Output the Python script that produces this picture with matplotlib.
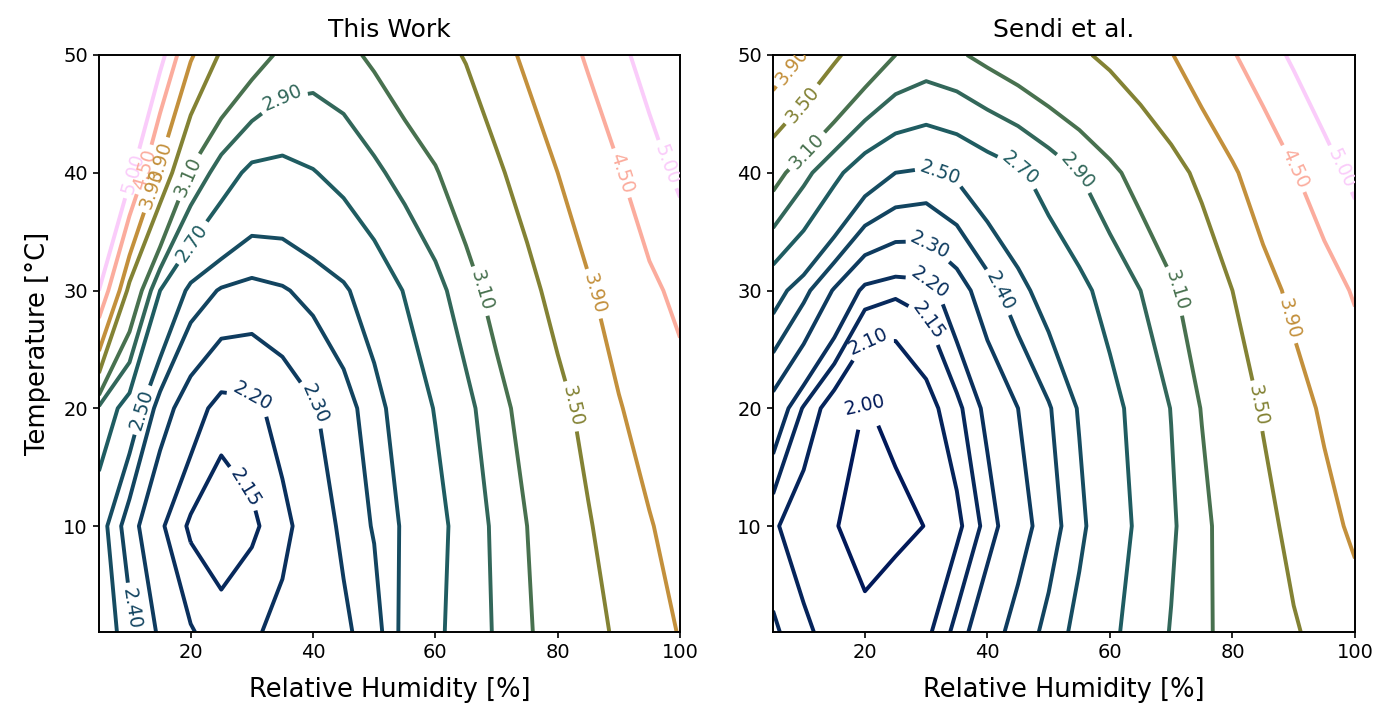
import matplotlib
matplotlib.use("Agg")
import matplotlib.pyplot as plt
import numpy as np
from matplotlib.colors import LinearSegmentedColormap, Normalize

# grid: relative humidity [%] x temperature [C]
rh = [5, 10, 15, 20, 25, 30, 35, 40, 45, 50, 55, 60, 65, 70, 75, 80, 85, 90, 95, 100]
temp = [1, 10, 20, 30, 40, 50]

# model output, one row per temperature
this_work = [
    [2.60, 2.43, 2.28, 2.205, 2.17, 2.19, 2.22, 2.25, 2.28, 2.35, 2.54, 2.66, 2.79, 2.92, 3.07, 3.23, 3.39, 3.55, 3.74, 3.92],
    [2.56, 2.34, 2.21, 2.14, 2.12, 2.14, 2.18, 2.24, 2.32, 2.41, 2.52, 2.64, 2.78, 2.94, 3.10, 3.28, 3.47, 3.68, 3.87, 4.08],
    [2.86, 2.60, 2.35, 2.24, 2.17, 2.18, 2.23, 2.29, 2.36, 2.45, 2.58, 2.71, 2.85, 3.01, 3.20, 3.39, 3.61, 3.87, 4.10, 4.32],
    [5.00, 3.37, 2.70, 2.46, 2.39, 2.37, 2.39, 2.43, 2.48, 2.58, 2.71, 2.84, 3.00, 3.20, 3.39, 3.63, 3.85, 4.12, 4.40, 4.62],
    [6.50, 5.15, 3.78, 3.07, 2.80, 2.65, 2.64, 2.69, 2.76, 2.86, 2.97, 3.08, 3.26, 3.44, 3.66, 3.90, 4.19, 4.47, 4.80, 5.10],
    [7.50, 6.20, 5.20, 3.95, 3.45, 3.22, 3.05, 3.00, 3.04, 3.14, 3.26, 3.39, 3.52, 3.74, 3.98, 4.27, 4.56, 4.88, 5.20, 5.50],
]

sendi = [
    [2.16, 2.115, 2.07, 2.025, 2.05, 2.085, 2.168, 2.253, 2.337, 2.43, 2.54, 2.66, 2.78, 2.91, 3.05, 3.19, 3.33, 3.47, 3.60, 3.74],
    [2.11, 2.06, 2.006, 1.96, 1.98, 2.002, 2.085, 2.17, 2.255, 2.35, 2.47, 2.60, 2.74, 2.87, 3.04, 3.22, 3.40, 3.59, 3.78, 3.97],
    [2.257, 2.144, 2.065, 1.995, 2.02, 2.077, 2.135, 2.218, 2.30, 2.39, 2.51, 2.64, 2.77, 2.905, 3.11, 3.32, 3.53, 3.74, 3.96, 4.18],
    [2.56, 2.43, 2.29, 2.18, 2.16, 2.17, 2.25, 2.36, 2.46, 2.56, 2.65, 2.77, 2.90, 3.06, 3.27, 3.50, 3.74, 4.00, 4.28, 4.55],
    [3.20, 2.96, 2.75, 2.58, 2.50, 2.48, 2.52, 2.60, 2.67, 2.78, 2.90, 3.04, 3.20, 3.38, 3.58, 3.84, 4.15, 4.47, 4.80, 5.13],
    [4.20, 3.87, 3.56, 3.30, 3.10, 3.02, 3.07, 3.16, 3.25, 3.35, 3.45, 3.57, 3.72, 3.88, 4.16, 4.46, 4.77, 5.08, 5.40, 5.70],
]

levels = [2.00, 2.10, 2.15, 2.20, 2.30, 2.40, 2.50, 2.70, 2.90, 3.10, 3.50, 3.90, 4.50, 5.00]

# label spots (RH, T) for clabel
work_labels = [(10.1, 40.0), (11.5, 40.4), (14.5, 41.0), (14.2, 38.6), (19.4, 39.7),
               (34.9, 46.6), (20.7, 33.9), (11.7, 19.9), (10.1, 3.0), (40.0, 20.3),
               (30.0, 21.0), (30.0, 13.7), (67.7, 30.0), (82.5, 20.2), (85.7, 29.7),
               (90.6, 40.0), (97.8, 40.7)]
sendi_labels = [(9.5, 48.5), (10.2, 45.6), (10.2, 42.0), (32.4, 40.3), (45.3, 40.3),
                (54.8, 40.3), (30.3, 33.7), (42.8, 30.1), (30.3, 30.5), (29.8, 27.3),
                (20.5, 26.7), (20.0, 20.3), (71.4, 30.1), (90.5, 27.8), (84.0, 20.2),
                (92.6, 41.0), (98.3, 40.5)]

batlow = LinearSegmentedColormap.from_list(
    "batlow", ["#011959", "#103F60", "#1C5A62", "#3C6D56", "#687B3E",
               "#9D892B", "#D29343", "#F8A17B", "#FDB7BC", "#FACCFA"])
norm = Normalize(vmin=2.0, vmax=5.0)

fig = plt.figure(figsize=(13.76, 7.14), dpi=100)
ax1 = fig.add_axes([0.0719, 0.1148, 0.4223, 0.8082])
ax2 = fig.add_axes([0.5618, 0.1148, 0.4229, 0.8082])

X, Y = np.meshgrid(rh, temp)
for ax, z, title, spots in [(ax1, this_work, "This Work", work_labels),
                            (ax2, sendi, "Sendi et al.", sendi_labels)]:
    cs = ax.contour(X, Y, np.array(z), levels=levels, cmap=batlow, norm=norm,
                    linewidths=2.8)
    ax.clabel(cs, inline=True, fmt="%.2f", fontsize=13.5, manual=spots)
    ax.set_xlim(5, 100)
    ax.set_ylim(1, 50)
    ax.set_xticks([20, 40, 60, 80, 100])
    ax.set_yticks([10, 20, 30, 40, 50])
    ax.tick_params(labelsize=14, length=4.5, width=1.2)
    for s in ax.spines.values():
        s.set_linewidth(1.4)
    ax.set_title(title, fontsize=18, pad=13)
    ax.set_xlabel("Relative Humidity [%]", fontsize=18.5, labelpad=11)

ax1.set_ylabel("Temperature [°C]", fontsize=18.5, labelpad=9)

fig.savefig("out.png", dpi=100)
